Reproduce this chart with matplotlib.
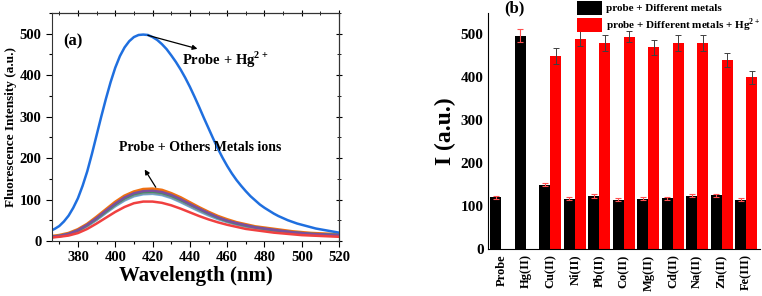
import matplotlib
matplotlib.use("Agg")
import matplotlib.pyplot as plt
import numpy as np

plt.rcParams['font.family'] = ['Liberation Serif', 'DejaVu Serif']
plt.rcParams['font.weight'] = 'bold'
plt.rcParams['mathtext.fontset'] = 'custom'
plt.rcParams['mathtext.rm'] = 'Liberation Serif:bold'
plt.rcParams['mathtext.bf'] = 'Liberation Serif:bold'

# ---------------- data: panel (a) ----------------
hg_wavelength = np.arange(365, 520.1, 2.5)
hg_curve = [24, 29, 36, 47, 61, 80, 103, 133, 168, 210,
            255, 300, 343, 383, 418, 446, 467, 482, 492, 497,
            498, 497, 492, 485, 475, 463, 448, 432, 414, 394,
            372, 348, 323, 297, 272, 247, 223, 201, 181, 163,
            147, 133, 120, 108, 98, 88, 80, 73, 66, 60,
            55, 50, 46, 42, 39, 36, 33, 30, 28, 26,
            24, 22, 20]
wavelength = [365, 370, 375, 380, 385, 390, 395, 400, 405, 410, 415, 420, 425, 430, 435, 440,
              445, 450, 455, 460, 465, 470, 475, 480, 485, 490, 495, 500, 505, 510, 515, 520]
orange_curve = [10, 13, 18, 27, 40, 57, 75, 93, 108, 118, 124, 125, 122, 114, 104, 92,
                80, 69, 59, 51, 44, 39, 34, 31, 28, 25, 22, 20, 18, 17, 16, 15]
purple_curve = [10, 12, 17, 26, 39, 55, 73, 90, 105, 115, 120, 121, 118, 111, 101, 89,
                78, 67, 57, 49, 43, 38, 33, 30, 27, 24, 21, 19, 17, 16, 15, 14]
green_curve = [10, 12, 17, 25, 38, 54, 71, 88, 103, 113, 118, 119, 116, 109, 99, 88,
               77, 66, 56, 48, 42, 37, 33, 29, 26, 23, 21, 19, 17, 16, 15, 14]
steel_curve = [9, 12, 16, 24, 37, 52, 69, 86, 100, 110, 115, 116, 113, 106, 96, 85,
               74, 64, 55, 47, 41, 36, 32, 28, 25, 22, 20, 18, 16, 15, 14, 13]
lightblue_curve = [9, 11, 16, 24, 36, 51, 68, 84, 98, 108, 113, 114, 111, 104, 94, 83,
                   72, 62, 53, 46, 40, 35, 31, 27, 24, 21, 19, 17, 15, 14, 13, 12]
red_curve = [8, 10, 13, 19, 29, 42, 56, 70, 82, 91, 95, 95, 92, 86, 78, 69,
             60, 52, 45, 39, 34, 29, 26, 23, 20, 18, 16, 14, 13, 12, 11, 10]

# ---------------- data: panel (b) ----------------
metals = ['Probe', 'Hg(II)', 'Cu(II)', 'Ni(II)', 'Pb(II)', 'Co(II)', 'Mg(II)', 'Cd(II)',
          'Na(II)', 'Zn(II)', 'Fe(III)']
metal_only = [120, 497, 150, 117, 123, 115, 117, 118, 124, 125, 115]
metal_only_err = [4, 15, 4, 3, 4, 3, 3, 3, 3, 4, 3]
metal_hg = [0, 0, 450, 490, 480, 495, 470, 480, 480, 440, 400]
metal_hg_err = [0, 0, 18, 18, 18, 12, 18, 18, 18, 17, 15]

fig = plt.figure(figsize=(7.62, 2.96), dpi=100)

# ---------------- panel (a) ----------------
ax1 = fig.add_axes([0.068, 0.186, 0.377, 0.770])
lines = [(lightblue_curve, '#6fb0e0', 2.0), (steel_curve, '#7f8fa6', 2.0),
         (green_curve, '#3a9a5a', 1.8), (purple_curve, '#7b4f9e', 1.8)]
ax1.plot(wavelength, orange_curve, color='#f07010', lw=2.6, zorder=1,
         solid_joinstyle='round')
for ys, c, lw in lines:
    ax1.plot(wavelength, ys, color=c, lw=lw, solid_joinstyle='round')
ax1.plot(wavelength, red_curve, color='#f04040', lw=1.8, solid_joinstyle='round')
ax1.plot(hg_wavelength, hg_curve, color='#1f6fdf', lw=1.8, solid_joinstyle='round')
ax1.set_xlim(366, 520)
ax1.set_ylim(0, 550)
ax1.set_xticks([380, 400, 420, 440, 460, 480, 500, 520])
ax1.set_yticks([0, 100, 200, 300, 400, 500])
ax1.set_xticks(np.arange(370, 521, 10), minor=True)
ax1.set_yticks(np.arange(50, 551, 100), minor=True)
ax1.tick_params(axis='both', which='both', direction='out', labelsize=10.5, width=0.8)
ax1.tick_params(which='major', length=4)
ax1.tick_params(which='minor', length=2.5)
for lab in ax1.get_xticklabels() + ax1.get_yticklabels():
    lab.set_fontweight('bold')
for sp in ax1.spines.values():
    sp.set_color('#333333')
ax1.set_xlabel('Wavelength (nm)', fontsize=15, fontweight='bold', labelpad=1)
ax1.set_ylabel('Fluorescence Intensity (a.u.)', fontsize=9.5, fontweight='bold', labelpad=2)
sec = ax1.secondary_xaxis('top')
sec.set_xticks([380, 400, 420, 440, 460, 480, 500, 520])
sec.set_xticks(np.arange(370, 521, 10), minor=True)
sec.tick_params(which='both', direction='inout', labeltop=False)
sec.tick_params(which='major', length=4)
sec.tick_params(which='minor', length=2.5)
secy = ax1.secondary_yaxis('right')
secy.set_yticks([0, 100, 200, 300, 400, 500])
secy.set_yticks(np.arange(50, 551, 100), minor=True)
secy.tick_params(which='both', direction='inout', labelright=False)
secy.tick_params(which='major', length=4)
secy.tick_params(which='minor', length=2.5)

ax1.text(372, 482, '(a)', fontsize=12, fontweight='bold', va='center')
ax1.annotate('', xy=(445.5, 462), xytext=(416, 498),
             arrowprops=dict(arrowstyle='-|>', color='black', lw=0.9, mutation_scale=7))
ax1.text(436, 438, r'Probe + Hg$^{2+}$', fontsize=10.5, fontweight='bold', va='center')
ax1.annotate('', xy=(415, 178), xytext=(422.5, 124),
             arrowprops=dict(arrowstyle='-|>', color='black', lw=0.9, mutation_scale=7))
ax1.text(445.6, 225, 'Probe + Others Metals ions', fontsize=10, fontweight='bold',
         va='center', ha='center')

# ---------------- panel (b) ----------------
ax2 = fig.add_axes([0.640, 0.159, 0.357, 0.797])
x = np.arange(len(metals))
w = 0.45
ax2.bar(x - w / 2, metal_only, w, color='black', label='probe + Different metals',
        yerr=metal_only_err, error_kw=dict(ecolor='#ff5050', elinewidth=0.8, capsize=2.5,
                                           capthick=0.8))
red_idx = [i for i in x if metal_hg[i] > 0]
ax2.bar([x[i] + w / 2 for i in red_idx], [metal_hg[i] for i in red_idx], w, color='#ff0000',
        label=r'probe + Different metals + Hg$^{2+}$',
        yerr=[metal_hg_err[i] for i in red_idx],
        error_kw=dict(ecolor='#404040', elinewidth=0.7, capsize=2.5, capthick=0.7))
ax2.set_xlim(-0.56, 10.55)
ax2.set_ylim(0, 550)
ax2.set_yticks([0, 100, 200, 300, 400, 500])
ax2.set_xticks(x)
ax2.set_xticklabels(metals, rotation=90, fontsize=9, fontweight='bold')
ax2.tick_params(axis='x', length=0, pad=4)
ax2.tick_params(axis='y', length=0, labelsize=11, pad=3)
for lab in ax2.get_yticklabels():
    lab.set_fontweight('bold')
ax2.spines['top'].set_visible(False)
ax2.spines['right'].set_visible(False)
ax2.set_ylabel('I (a.u.)', fontsize=17, fontweight='bold', labelpad=3)
ax2.text(0.062, 1.02, '(b)', transform=ax2.transAxes, fontsize=12,
         fontweight='bold', va='center')
ax2.legend(loc='upper left', bbox_to_anchor=(0.33, 1.052), frameon=False,
           fontsize=8.0, handlelength=2.25, handleheight=1.55, labelspacing=0.15,
           handletextpad=0.35, borderaxespad=0, borderpad=0.0)

fig.savefig('out.png', dpi=100)
